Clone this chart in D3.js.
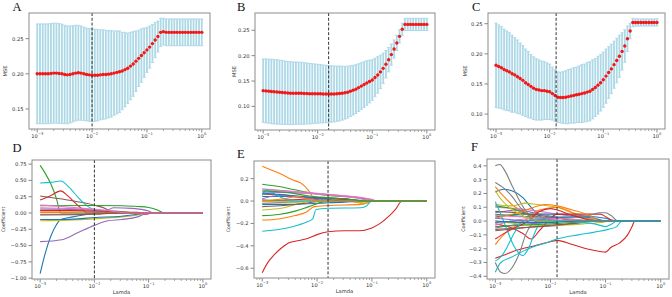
<!DOCTYPE html>
<html>
<head>
<meta charset="utf-8">
<script src="https://cdn.jsdelivr.net/npm/d3@7"></script>
<style>
  body { margin: 0; background: #fff; }
  svg { display: block; }
  text { font-family: "DejaVu Sans", sans-serif; fill: #333; }
  .letter { font-family: "Liberation Serif", "Times New Roman", serif; fill: #111; }
</style>
</head>
<body>
<div id="chart"></div>
<script>
// lambda grid (log10), 61 steps from 1e-3 to 1e0
var logLambda = d3.range(61).map(i => -3 + i * 0.05);

// ---- cross-validation MSE (mean and standard error) ----
var mseA = [0.200,0.200,0.200,0.200,0.200,0.2005,0.201,0.201,0.2005,0.200,
  0.199,0.1985,0.199,0.200,0.201,0.2015,0.201,0.200,0.199,0.1985,
  0.198,0.198,0.198,0.1985,0.199,0.199,0.1995,0.200,0.201,0.202,
  0.203,0.204,0.206,0.208,0.211,0.214,0.218,0.222,0.226,0.230,
  0.234,0.238,0.243,0.248,0.253,0.259,0.260,0.259,0.259,0.259,
  0.259,0.259,0.259,0.259,0.259,0.259,0.259,0.259,0.259,0.259,0.259];
var seA = [0.071,0.071,0.071,0.071,0.071,0.071,0.071,0.071,0.071,0.0705,
  0.070,0.0695,0.069,0.0685,0.068,0.0675,0.067,0.0665,0.066,0.066,
  0.066,0.0655,0.065,0.064,0.0635,0.063,0.062,0.0615,0.060,0.059,
  0.058,0.055,0.053,0.050,0.048,0.046,0.043,0.040,0.038,0.035,
  0.032,0.030,0.027,0.025,0.022,0.020,0.019,0.019,0.019,0.019,
  0.019,0.019,0.019,0.019,0.019,0.019,0.019,0.019,0.019,0.019,0.019];

var mseB = [0.131,0.1305,0.130,0.1295,0.129,0.1285,0.128,0.1275,0.127,0.1265,
  0.126,0.126,0.126,0.126,0.126,0.1255,0.1255,0.125,0.125,0.125,
  0.125,0.125,0.1245,0.1245,0.1245,0.1245,0.1245,0.125,0.1255,0.126,
  0.127,0.128,0.130,0.132,0.134,0.137,0.140,0.143,0.146,0.149,
  0.152,0.157,0.162,0.168,0.175,0.183,0.192,0.202,0.213,0.225,
  0.238,0.252,0.2615,0.2615,0.2615,0.2615,0.2615,0.2615,0.2615,0.2615,0.2615];
var seB = [0.0625,0.063,0.063,0.0635,0.0635,0.0635,0.063,0.063,0.0625,0.062,
  0.062,0.0615,0.0615,0.061,0.061,0.0605,0.060,0.0595,0.059,0.0585,
  0.058,0.0575,0.057,0.0565,0.056,0.0555,0.055,0.0545,0.054,0.053,
  0.052,0.051,0.050,0.049,0.048,0.047,0.046,0.045,0.044,0.042,
  0.040,0.038,0.036,0.033,0.030,0.027,0.024,0.021,0.018,0.015,
  0.013,0.012,0.012,0.012,0.012,0.012,0.012,0.012,0.012,0.012,0.012];

var mseC = [0.181,0.179,0.177,0.174,0.172,0.170,0.167,0.165,0.162,0.159,
  0.156,0.152,0.149,0.146,0.143,0.141,0.140,0.139,0.139,0.138,
  0.137,0.134,0.131,0.128,0.1275,0.1275,0.128,0.129,0.130,0.131,
  0.132,0.133,0.134,0.135,0.1365,0.138,0.141,0.144,0.148,0.152,
  0.157,0.163,0.169,0.175,0.182,0.189,0.196,0.204,0.213,0.225,
  0.238,0.252,0.252,0.252,0.252,0.252,0.252,0.252,0.252,0.252,0.252];
var seC = [0.070,0.069,0.068,0.067,0.066,0.065,0.064,0.062,0.061,0.059,
  0.058,0.056,0.055,0.053,0.052,0.051,0.050,0.049,0.048,0.047,
  0.046,0.044,0.043,0.042,0.042,0.043,0.044,0.045,0.045,0.046,
  0.046,0.047,0.048,0.048,0.049,0.049,0.049,0.048,0.048,0.047,
  0.046,0.045,0.043,0.041,0.039,0.037,0.035,0.031,0.027,0.021,
  0.013,0.007,0.006,0.006,0.006,0.006,0.006,0.006,0.006,0.006,0.006];

// chosen lambda (log10) per column
var bestLog = [-2.0, -1.8, -1.88];

// ---- coefficient paths: [log10 lambda, coefficient] ----
var coefD = [
  [[-3,-0.93],[-2.9,-0.6],[-2.8,-0.35],[-2.7,-0.18],[-2.62,-0.1],[-2.4,-0.06],[-2.2,-0.03],[-2,-0.01],[-1.9,0],[0,0]],
  [[-3,0.03],[-2.5,0.03],[-2,0.02],[-1.5,0.01],[-1.2,0],[0,0]],
  [[-3,0.73],[-2.9,0.6],[-2.8,0.44],[-2.7,0.22],[-2.62,0],[0,0]],
  [[-3,0.2],[-2.8,0.27],[-2.62,0.34],[-2.5,0.27],[-2.35,0.15],[-2.2,0.04],[-2.15,0],[0,0]],
  [[-3,-0.44],[-2.6,-0.41],[-2.3,-0.3],[-2,-0.19],[-1.75,-0.12],[-1.5,-0.1],[-1.2,-0.06],[-1,0],[0,0]],
  [[-3,0.26],[-2.5,0.2],[-2,0.12],[-1.8,0.07],[-1.65,0],[0,0]],
  [[-3,0.08],[-2.5,0.07],[-2,0.05],[-1.6,0.03],[-1.3,0],[0,0]],
  [[-3,-0.02],[-2.5,-0.02],[-2,-0.01],[-1.5,0],[0,0]],
  [[-3,-0.12],[-2.5,-0.11],[-2,-0.09],[-1.5,-0.06],[-1.2,-0.03],[-1,0],[0,0]],
  [[-3,0.46],[-2.8,0.47],[-2.62,0.49],[-2.45,0.38],[-2.3,0.24],[-2.15,0.12],[-2,0.05],[-1.8,0.03],[-1.5,0.02],[-1.2,0],[0,0]],
  [[-3,-0.1],[-2.62,-0.1],[-2.3,-0.09],[-2,-0.07],[-1.5,-0.05],[-1.2,-0.02],[-1.05,0],[0,0]],
  [[-3,0.01],[-2.5,0.01],[-2,0.02],[-1.6,0.01],[-1.3,0],[0,0]],
  [[-3,0.11],[-2,0.115],[-1.5,0.11],[-1.2,0.1],[-1,0.085],[-0.85,0.05],[-0.7,0],[0,0]],
  [[-3,0.04],[-2.2,0.04],[-1.7,0.02],[-1.2,0.01],[-1.05,-0.02],[-0.95,0],[0,0]],
  [[-3,0.06],[-2.3,0.05],[-1.8,0.03],[-1.65,0.08],[-1.3,0.07],[-1,0.03],[-0.9,0],[0,0]],
  [[-3,-0.03],[-2,-0.02],[-1.6,0],[0,0]],
  [[-3,0.12],[-2.6,0.1],[-2.2,0.07],[-1.9,0.05],[-1.6,0.02],[-1.4,0],[0,0]]
];

var coefE = [
  [[-3,0.04],[-2.5,0.04],[-2,0.03],[-1.5,0.02],[-1.1,0],[0,0]],
  [[-3,0.31],[-2.85,0.28],[-2.7,0.25],[-2.45,0.19],[-2.25,0.145],[-2.15,0.09],[-2.05,0.02],[-1.9,0],[-1.5,0],[-1.1,-0.02],[-1,0],[0,0]],
  [[-3,0.15],[-2.7,0.13],[-2.4,0.1],[-2.1,0.07],[-1.8,0.05],[-1.25,0.03],[-1,0],[0,0]],
  [[-3,-0.64],[-2.9,-0.55],[-2.8,-0.49],[-2.65,-0.42],[-2.5,-0.37],[-2.3,-0.35],[-2.15,-0.33],[-2,-0.3],[-1.8,-0.275],[-1.5,-0.265],[-1.25,-0.265],[-1,-0.24],[-0.85,-0.2],[-0.7,-0.14],[-0.57,-0.075],[-0.45,0],[0,0]],
  [[-3,0.08],[-2.5,0.075],[-2,0.065],[-1.5,0.045],[-1.1,0.02],[-0.9,0],[0,0]],
  [[-3,0.06],[-2.5,0.05],[-2,0.03],[-1.5,0.02],[-1.2,0],[0,0]],
  [[-3,0.1],[-2.5,0.09],[-2,0.07],[-1.8,0.06],[-1.25,0.035],[-1,0.015],[-0.9,0],[0,0]],
  [[-3,-0.02],[-2.5,-0.01],[-2,0],[0,0]],
  [[-3,-0.08],[-2.6,-0.06],[-2.3,-0.02],[-2.1,0],[0,0]],
  [[-3,-0.27],[-2.7,-0.255],[-2.45,-0.23],[-2.2,-0.19],[-2.08,-0.16],[-2.02,-0.075],[-1.8,-0.065],[-1.2,-0.06],[-1.1,-0.045],[-1,0],[0,0]],
  [[-3,-0.03],[-2.5,-0.03],[-2,-0.02],[-1.5,-0.01],[-1.2,0],[0,0]],
  [[-3,-0.17],[-2.7,-0.16],[-2.4,-0.13],[-2.2,-0.1],[-2.05,-0.05],[-1.8,-0.04],[-1.2,-0.03],[-1,0],[0,0]],
  [[-3,-0.13],[-2.7,-0.12],[-2.4,-0.09],[-2.15,-0.05],[-1.9,-0.01],[-1.6,0],[0,0]],
  [[-3,0],[-2.5,0.01],[-2,0.02],[-1.5,0.015],[-1.2,0],[0,0]],
  [[-3,0.02],[-2.7,0.05],[-2.3,0.03],[-1.9,0.01],[-1.6,0],[0,0]],
  [[-3,-0.05],[-2.6,-0.04],[-2.2,-0.02],[-1.9,0],[0,0]],
  [[-3,0.11],[-2.8,0.1],[-2.4,0.08],[-2,0.06],[-1.5,0.04],[-1.1,0.01],[-1,0],[0,0]],
  [[-3,0.01],[-2.5,0],[0,0]],
  [[-3,0],[-2.5,-0.01],[-2,0],[-1.3,0],[-1.15,-0.03],[-1.05,0],[0,0]],
  [[-3,0.05],[-2.92,0.1],[-2.8,0.07],[-2.6,0.02],[-2.4,0],[0,0]],
  [[-3,0.07],[-2.7,0.06],[-2.3,0.04],[-1.9,0.02],[-1.5,0],[0,0]],
  [[-3,0],[-2.6,0.02],[-2.35,0.04],[-2.2,0.02],[-2,0],[0,0]],
  [[-3,0.09],[-2.6,0.08],[-2.2,0.05],[-1.8,0.03],[-1.3,0.01],[-1.1,0],[0,0]]
];

var coefF = [
  [[-3,0.21],[-2.85,0.23],[-2.7,0.22],[-2.5,0.17],[-2.35,0.1],[-2.2,0.04],[-2.05,0],[0,0]],
  [[-3,0.25],[-2.85,0.18],[-2.7,0.12],[-2.5,0.07],[-2.3,0.03],[-2.1,0],[0,0]],
  [[-3,0.05],[-2.7,0.04],[-2.3,0.03],[-1.9,0.02],[-1.5,0.01],[-1.2,0],[0,0]],
  [[-3,-0.27],[-2.8,-0.24],[-2.6,-0.21],[-2.3,-0.18],[-2,-0.15],[-1.88,-0.14],[-1.6,-0.17],[-1.35,-0.2],[-1.1,-0.22],[-1,-0.225],[-0.9,-0.19],[-0.75,-0.16],[-0.6,-0.1],[-0.52,-0.04],[-0.47,0],[0,0]],
  [[-3,0.06],[-2.6,0.08],[-2.2,0.05],[-1.9,0.03],[-1.6,0],[0,0]],
  [[-3,-0.06],[-2.6,-0.05],[-2.2,-0.04],[-1.8,-0.03],[-1.4,0],[0,0]],
  [[-3,0.1],[-2.6,0.09],[-2.2,0.07],[-1.88,0.05],[-1.5,0.03],[-1.2,0.01],[-1.05,0],[0,0]],
  [[-3,0.4],[-2.92,0.41],[-2.82,0.36],[-2.7,0.26],[-2.55,0.14],[-2.4,0.05],[-2.25,0],[0,0]],
  [[-3,0.12],[-2.7,0.11],[-2.45,0.13],[-2.25,0.12],[-1.88,0.1],[-1.6,0.06],[-1.35,0.03],[-1.15,0],[0,0]],
  [[-3,-0.37],[-2.9,-0.3],[-2.7,-0.26],[-2.4,-0.2],[-2.1,-0.16],[-1.88,-0.13],[-1.5,-0.1],[-1.2,-0.08],[-0.95,-0.06],[-0.8,-0.04],[-0.7,0],[0,0]],
  [[-3,0.03],[-2.5,0.05],[-2,0.05],[-1.5,0.04],[-1,0.02],[-0.8,0],[0,0]],
  [[-3,-0.17],[-2.85,-0.1],[-2.65,-0.04],[-2.4,0.02],[-2.2,0.08],[-1.88,0.1],[-1.6,0.06],[-1.4,0.02],[-1.25,0],[0,0]],
  [[-3,0.11],[-2.7,0.09],[-2.4,0.05],[-2.1,0.02],[-1.8,0],[0,0]],
  [[-3,-0.02],[-2.7,-0.05],[-2.5,-0.09],[-2.35,-0.13],[-2.2,-0.07],[-2,0.02],[-1.88,0.05],[-1.5,0.05],[-1.1,0.05],[-0.95,0.02],[-0.85,0],[0,0]],
  [[-3,-0.05],[-2.7,-0.03],[-2.4,-0.02],[-2,-0.01],[-1.7,0],[0,0]],
  [[-3,0.07],[-2.6,0.06],[-2.2,0.04],[-1.8,0.02],[-1.5,0],[0,0]],
  [[-3,-0.03],[-2.7,0],[-2.3,0.02],[-1.9,0.01],[-1.6,0],[0,0]],
  [[-3,-0.3],[-2.9,-0.37],[-2.82,-0.38],[-2.7,-0.34],[-2.55,-0.22],[-2.45,-0.1],[-2.35,-0.03],[-2.25,0],[-2,0.02],[-1.6,0.03],[-1.3,0.04],[-1.1,0.06],[-1,0.06],[-0.9,0.04],[-0.77,0],[0,0]],
  [[-3,0],[-2.6,-0.02],[-2.2,-0.03],[-1.88,-0.03],[-1.4,-0.02],[-1.1,-0.01],[-0.9,0],[0,0]],
  [[-3,0.14],[-2.9,0.05],[-2.8,-0.05],[-2.7,-0.15],[-2.6,-0.22],[-2.5,-0.25],[-2.4,-0.2],[-2.3,-0.1],[-2.2,-0.02],[-2.1,0],[0,0]],
  [[-3,-0.01],[-2.6,0],[-2.2,0.01],[-1.88,0.03],[-1.5,0.03],[-1.2,0.02],[-1,0],[0,0]],
  [[-3,0.02],[-2.6,0.06],[-2.3,0.1],[-2.1,0.12],[-1.88,0.11],[-1.6,0.08],[-1.35,0.05],[-1.2,0.02],[-1.1,0],[0,0]],
  [[-3,-0.04],[-2.5,-0.03],[-2,-0.02],[-1.6,-0.01],[-1.3,0],[0,0]],
  [[-3,-0.13],[-2.8,-0.08],[-2.6,-0.04],[-2.4,0],[-2.2,0.07],[-2,0.09],[-1.88,0.08],[-1.6,0.04],[-1.3,0.01],[-1.1,0],[0,0]],
  [[-3,0.02],[-2.7,0.01],[-2.3,0],[0,0]],
  [[-3,-0.07],[-2.5,-0.05],[-2,-0.03],[-1.5,-0.015],[-1.2,0],[0,0]],
  [[-3,0.04],[-2.5,0.03],[-2,0.02],[-1.5,0.01],[-1.3,0],[0,0]],
  [[-3,0.28],[-2.85,0.24],[-2.7,0.18],[-2.55,0.1],[-2.4,0.04],[-2.25,0],[0,0]],
  [[-3,0.22],[-2.9,0.16],[-2.75,0.1],[-2.6,0.06],[-2.4,0.02],[-2.2,0],[0,0]],
  [[-3,-0.29],[-2.9,-0.26],[-2.8,-0.2],[-2.7,-0.12],[-2.6,-0.05],[-2.5,0],[-2.2,0.01],[-1.8,0],[-1.2,-0.02],[-1,-0.04],[-0.88,-0.02],[-0.8,0],[0,0]],
  [[-3,0],[-2.5,-0.01],[-2,-0.01],[-1.5,0],[0,0]]
];

var yTicksTop = [[0.15,0.20,0.25],[0.10,0.15,0.20,0.25],[0.10,0.15,0.20,0.25]];
var yTicksBottom = [[-1.00,-0.75,-0.50,-0.25,0.00,0.25,0.50,0.75],
  [-0.6,-0.4,-0.2,0.0,0.2],
  [-0.4,-0.3,-0.2,-0.1,0.0,0.1,0.2,0.3,0.4]];
var xTickExp = [-3,-2,-1,0];
var letters = ["A","B","C","D","E","F"];

var W = 672, H = 297;
var tab10 = d3.schemeCategory10;

var svg = d3.select("#chart").append("svg")
    .attr("width", W)
    .attr("height", H);

// frames of the six axes
var boxes = [
  {x0: 29, x1: 210, y0: 13, y1: 129},
  {x0: 255, x1: 435, y0: 13, y1: 130},
  {x0: 488, x1: 665, y0: 13, y1: 129},
  {x0: 32, x1: 211, y0: 160, y1: 279},
  {x0: 254, x1: 435, y0: 161, y1: 278},
  {x0: 487, x1: 669, y0: 159, y1: 279}
];
var letterPos = [[12.5, 11], [237, 11], [472, 11], [12.5, 152], [237, 158], [471, 151]];

function pad(ext) {
  var d = (ext[1] - ext[0]) * 0.05;
  return [ext[0] - d, ext[1] + d];
}

function axes(b, yDomain, yTicks, yFmt, yLabel, yLabelX, showX) {
  var g = svg.append("g");
  var x = d3.scaleLog().domain([Math.pow(10, -3.15), Math.pow(10, 0.15)]).range([b.x0, b.x1]);
  var y = d3.scaleLinear().domain(yDomain).range([b.y1, b.y0]);

  // x ticks, major and minor
  var minor = [];
  for (var k = -4; k <= 0; k++) for (var m = 2; m <= 9; m++) {
    var v = m * Math.pow(10, k);
    if (v > x.domain()[0] && v < x.domain()[1]) minor.push(v);
  }
  g.selectAll(".xminor").data(minor).enter().append("line")
    .attr("x1", d => x(d)).attr("x2", d => x(d))
    .attr("y1", b.y1).attr("y2", b.y1 + 2)
    .attr("stroke", "#555").attr("stroke-width", 0.5);
  g.selectAll(".xmajor").data(xTickExp).enter().append("line")
    .attr("x1", d => x(Math.pow(10, d))).attr("x2", d => x(Math.pow(10, d)))
    .attr("y1", b.y1).attr("y2", b.y1 + 3.5)
    .attr("stroke", "#555").attr("stroke-width", 0.7);
  g.selectAll(".xlab").data(xTickExp).enter().append("text")
    .attr("x", d => x(Math.pow(10, d)))
    .attr("y", b.y1 + 8.5)
    .attr("text-anchor", "middle")
    .attr("font-size", 5.2)
    .each(function(d) {
      var t = d3.select(this);
      t.append("tspan").text("10");
      t.append("tspan").attr("dy", -2.2).attr("font-size", 3.6).text(d === 0 ? "0" : "\u2212" + (-d));
    });

  // y ticks
  g.selectAll(".ytick").data(yTicks).enter().append("line")
    .attr("x1", b.x0 - 3.5).attr("x2", b.x0)
    .attr("y1", d => y(d)).attr("y2", d => y(d))
    .attr("stroke", "#555").attr("stroke-width", 0.7);
  g.selectAll(".ylab").data(yTicks).enter().append("text")
    .attr("x", b.x0 - 5.5)
    .attr("y", d => y(d) + 1.9)
    .attr("text-anchor", "end")
    .attr("font-size", 5.2)
    .text(d => d3.format(yFmt)(d));

  g.append("text")
    .attr("transform", `translate(${yLabelX},${(b.y0 + b.y1) / 2}) rotate(-90)`)
    .attr("text-anchor", "middle")
    .attr("font-size", yLabel === "MSE" ? 5.2 : 4.8)
    .text(yLabel);
  if (showX) {
    g.append("text")
      .attr("x", (b.x0 + b.x1) / 2)
      .attr("y", b.y1 + 15)
      .attr("text-anchor", "middle")
      .attr("font-size", 5.2)
      .text("Lamda");
  }
  return {g: g, x: x, y: y};
}

function frame(g, b, bestX) {
  g.append("line")
    .attr("x1", bestX).attr("x2", bestX)
    .attr("y1", b.y0).attr("y2", b.y1)
    .attr("stroke", "#333").attr("stroke-width", 1)
    .attr("stroke-dasharray", "3,1.8");
  g.append("rect")
    .attr("x", b.x0).attr("y", b.y0)
    .attr("width", b.x1 - b.x0).attr("height", b.y1 - b.y0)
    .attr("fill", "none").attr("stroke", "#8c8c8c").attr("stroke-width", 1);
}

// ---- top row: MSE with error bars ----
var mseSets = [[mseA, seA], [mseB, seB], [mseC, seC]];
var mseLabX = [7, 236, 467];
mseSets.forEach(function(s, p) {
  var b = boxes[p];
  var rows = logLambda.map((l, i) => ({l: l, m: s[0][i], s: s[1][i]}));
  var ext = [d3.min(rows, d => d.m - d.s), d3.max(rows, d => d.m + d.s)];
  var a = axes(b, pad(ext), yTicksTop[p], ".2f", "MSE", mseLabX[p], false);
  var x = a.x, y = a.y, g = a.g;

  var eb = g.append("g");
  eb.selectAll(".bar").data(rows).enter().append("line")
    .attr("x1", d => x(Math.pow(10, d.l))).attr("x2", d => x(Math.pow(10, d.l)))
    .attr("y1", d => y(d.m - d.s)).attr("y2", d => y(d.m + d.s))
    .attr("stroke", "#add8e6").attr("stroke-width", 1.8);
  ["lo", "hi"].forEach(function(side) {
    eb.selectAll(".cap" + side).data(rows).enter().append("line")
      .attr("x1", d => x(Math.pow(10, d.l)) - 1.6).attr("x2", d => x(Math.pow(10, d.l)) + 1.6)
      .attr("y1", d => y(side === "lo" ? d.m - d.s : d.m + d.s))
      .attr("y2", d => y(side === "lo" ? d.m - d.s : d.m + d.s))
      .attr("stroke", "#add8e6").attr("stroke-width", 0.9);
  });
  g.selectAll(".dot").data(rows).enter().append("circle")
    .attr("cx", d => x(Math.pow(10, d.l)))
    .attr("cy", d => y(d.m))
    .attr("r", 1.7)
    .attr("fill", "#f01818");
  frame(g, b, x(Math.pow(10, bestLog[p])));
});

// ---- bottom row: coefficient paths ----
var coefSets = [coefD, coefE, coefF];
var coefLabX = [5, 230, 465];
var coefFmt = [".2f", ".1f", ".1f"];
coefSets.forEach(function(paths, p) {
  var b = boxes[p + 3];
  var all = paths.flat();
  var ext = d3.extent(all, d => d[1]);
  var a = axes(b, pad(ext), yTicksBottom[p], coefFmt[p], "Coefficient", coefLabX[p], true);
  var x = a.x, y = a.y, g = a.g;
  var line = d3.line()
    .x(d => x(Math.pow(10, d[0])))
    .y(d => y(d[1]))
    .curve(d3.curveMonotoneX);
  g.selectAll(".path").data(paths).enter().append("path")
    .attr("d", line)
    .attr("fill", "none")
    .attr("stroke", (d, i) => tab10[i % 10])
    .attr("stroke-width", 1.1);
  frame(g, b, x(Math.pow(10, bestLog[p])));
});

// panel letters
svg.selectAll(".letter").data(letters).enter().append("text")
  .classed("letter", true)
  .attr("x", (d, i) => letterPos[i][0])
  .attr("y", (d, i) => letterPos[i][1])
  .attr("font-size", 12.5)
  .text(d => d);
</script>
</body>
</html>
